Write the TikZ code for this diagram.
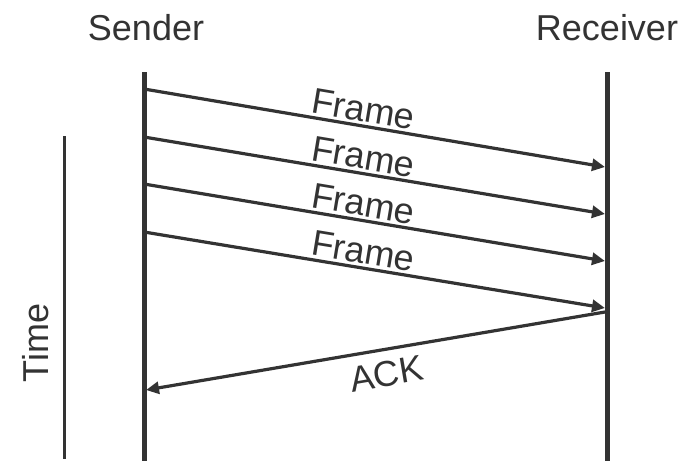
\documentclass[tikz,border=0pt]{standalone}
\usepackage{fontspec}
\setmainfont{Liberation Sans}
\usetikzlibrary{arrows.meta}
\definecolor{ink}{HTML}{333333}
\begin{document}
\begin{tikzpicture}[x=1pt,y=-1pt,
  lifeline/.style={draw=ink,line width=5pt},
  timeline/.style={draw=ink,line width=3pt},
  msg/.style={draw=ink,line width=3.2pt,-{Triangle[length=13pt,width=12pt]}},
  lbl/.style={text=ink,font=\fontsize{36}{40}\selectfont},
  msglbl/.style={lbl,sloped,inner sep=2.5pt}]
\useasboundingbox (0,0) rectangle (694,461);
\node[lbl] (sender) at (146,28) {Sender};
\node[lbl] (receiver) at (607,28) {Receiver};
\coordinate (stop) at (144,72);
\coordinate (sbot) at (144,461);
\coordinate (rtop) at (607,72);
\coordinate (rbot) at (607,461);
\draw[lifeline] (stop) -- (sbot);
\draw[lifeline] (rtop) -- (rbot);
\coordinate (ttop) at (64,136);
\coordinate (tbot) at (64,459);
\draw[timeline] (ttop) -- (tbot);
\node[lbl,rotate=90] (time) at (36,343) {Time};
\coordinate (s1) at (144,89);
\coordinate (s2) at (144,137);
\coordinate (s3) at (144,184);
\coordinate (s4) at (144,232);
\coordinate (r1) at (605,167);
\coordinate (r2) at (605,214);
\coordinate (r3) at (605,261);
\coordinate (r4) at (605,308);
\coordinate (ra) at (605,312);
\coordinate (sa) at (146,390);
\draw[msg] (s1) -- node[msglbl,above,pos=0.47] (f1) {Frame} (r1);
\draw[msg] (s2) -- node[msglbl,above,pos=0.47] (f2) {Frame} (r2);
\draw[msg] (s3) -- node[msglbl,above,pos=0.47] (f3) {Frame} (r3);
\draw[msg] (s4) -- node[msglbl,above,pos=0.47] (f4) {Frame} (r4);
\draw[msg] (ra) -- node[msglbl,below,pos=0.485,inner sep=10pt] (ack) {ACK} (sa);
\end{tikzpicture}
\end{document}
